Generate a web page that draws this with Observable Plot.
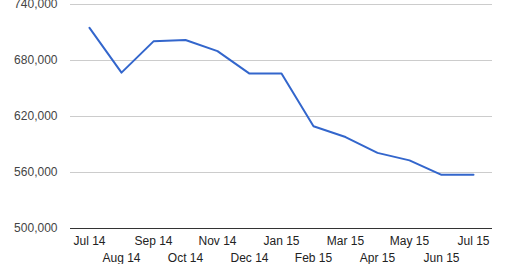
<!DOCTYPE html>
<html>
<head>
<meta charset="utf-8">
<script src="https://cdn.jsdelivr.net/npm/d3@7"></script>
<script src="https://cdn.jsdelivr.net/npm/@observablehq/plot@0.6"></script>
<style>
  html, body { margin: 0; padding: 0; background: #fff; }
  svg { overflow: visible; }
  svg text { font-family: "Liberation Sans", Arial, sans-serif; }
</style>
</head>
<body>
<div id="chart"></div>
<script>
const months = ["Jul 14","Aug 14","Sep 14","Oct 14","Nov 14","Dec 14","Jan 15","Feb 15","Mar 15","Apr 15","May 15","Jun 15","Jul 15"];
const values = [715000, 667000, 700500, 702000, 690000, 666000, 666000, 609500, 598000, 581000, 573000, 557500, 557500];
const yTicks = [500000, 560000, 620000, 680000, 740000];

const data = months.map((m, i) => ({month: m, value: values[i]}));
const topRow = months.filter((m, i) => i % 2 === 0);
const bottomRow = months.filter((m, i) => i % 2 === 1);

const chart = Plot.plot({
  width: 523,
  height: 264,
  marginLeft: 70,
  marginRight: 31,
  marginTop: 4,
  marginBottom: 36,
  style: {fontFamily: "'Liberation Sans', Arial, sans-serif", fontSize: "12px", background: "#fff"},
  x: {type: "point", domain: months, padding: 0.5, axis: null},
  y: {domain: [500000, 740000], axis: null},
  marks: [
    Plot.ruleY(yTicks.slice(1), {stroke: "#cccccc", strokeWidth: 1, strokeOpacity: 1}),
    Plot.ruleY([500000], {stroke: "#333333", strokeWidth: 1, strokeOpacity: 1}),
    Plot.axisY({ticks: yTicks, tickSize: 0, tickPadding: 13, tickFormat: d3.format(","), fill: "#444444", fontSize: 12, label: null}),
    Plot.axisX({ticks: topRow, tickSize: 0, tickPadding: 8, fill: "#222222", fontSize: 12, label: null}),
    Plot.axisX({ticks: bottomRow, tickSize: 0, tickPadding: 25, fill: "#222222", fontSize: 12, label: null}),
    Plot.line(data, {x: "month", y: "value", stroke: "#3366cc", strokeWidth: 2, curve: "linear"})
  ]
});
document.getElementById("chart").appendChild(chart);
</script>
</body>
</html>
